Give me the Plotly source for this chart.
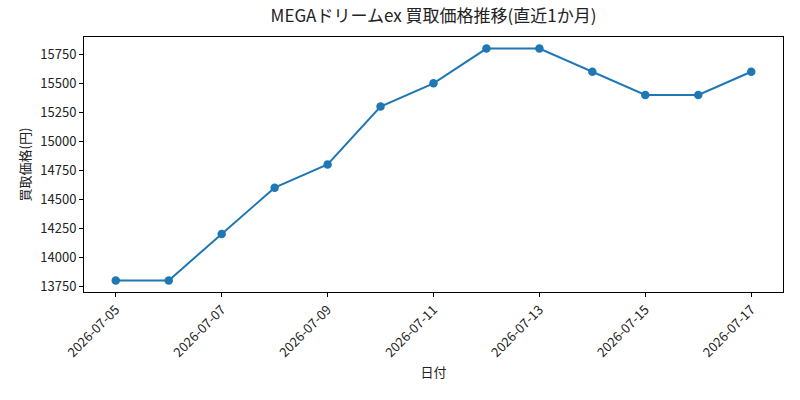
import plotly.graph_objects as go

dates = ["2026-07-05", "2026-07-06", "2026-07-07", "2026-07-08", "2026-07-09",
         "2026-07-10", "2026-07-11", "2026-07-12", "2026-07-13", "2026-07-14",
         "2026-07-15", "2026-07-16", "2026-07-17"]
prices = [13800, 13800, 14200, 14600, 14800, 15300, 15500, 15800, 15800, 15600,
          15400, 15400, 15600]
tick_vals = ["2026-07-05", "2026-07-07", "2026-07-09", "2026-07-11",
             "2026-07-13", "2026-07-15", "2026-07-17"]
y_ticks = [13750, 14000, 14250, 14500, 14750, 15000, 15250, 15500, 15750]
y_labels = [str(v) for v in y_ticks]

FONT = "Noto Sans CJK JP"

fig = go.Figure(go.Scatter(
    x=dates, y=prices, mode="lines+markers",
    line=dict(color="#1f77b4", width=2),
    marker=dict(color="#1f77b4", size=8.5),
))

fig.update_layout(
    width=800, height=400,
    margin=dict(l=84, r=17, t=37, b=108),
    paper_bgcolor="white", plot_bgcolor="white",
    font=dict(family=FONT, size=13, color="#222"),
    title=dict(text="MEGAドリームex 買取価格推移(直近1か月)", x=0.5, xref="paper",
               xanchor="center", y=1, yref="container", yanchor="top", pad=dict(t=10),
               font=dict(family=FONT, size=17, color="#222")),
    showlegend=False,
)
fig.update_xaxes(
    type="date", range=["2026-07-04 09:36", "2026-07-17 14:24"],
    tickvals=tick_vals, ticktext=tick_vals, tickangle=-45,
    showgrid=False, zeroline=False,
    showline=True, linecolor="black", linewidth=1, mirror=True,
    ticks="outside", ticklen=4, tickcolor="black",
    title=dict(text="日付", standoff=8, font=dict(size=13)),
)
fig.update_yaxes(
    range=[13700, 15900], tickvals=y_ticks, ticktext=y_labels,
    showgrid=False, zeroline=False,
    showline=True, linecolor="black", linewidth=1, mirror=True,
    ticks="outside", ticklen=4, tickcolor="black",
    title=dict(text="買取価格(円)", standoff=6, font=dict(size=13)),
)

fig.write_html("out.html")
